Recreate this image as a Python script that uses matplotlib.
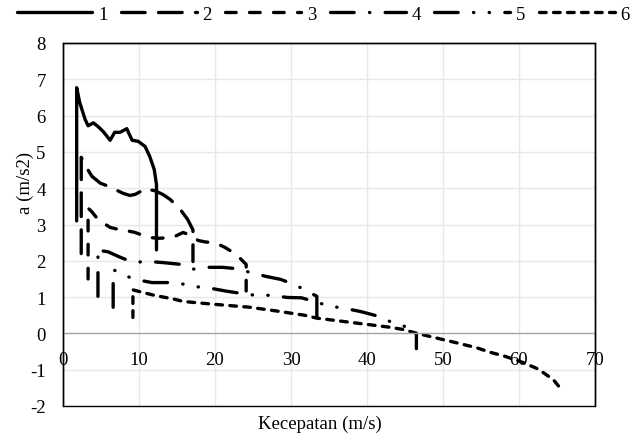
import matplotlib
matplotlib.use('Agg')
import matplotlib.pyplot as plt
from matplotlib.patches import Rectangle

plt.rcParams['font.family'] = ['Liberation Serif', 'DejaVu Serif']
plt.rcParams['font.size'] = 13.5
plt.rcParams['axes.unicode_minus'] = False

# ---- data (speed m/s, acceleration m/s2) ----
x1 = [1.8, 1.8, 2.2, 2.9, 3.3, 4.0, 4.6, 5.3, 6.2, 6.8, 7.5, 8.4, 8.6, 9.1, 9.9, 10.8, 11.4, 12.0, 12.3, 12.3]
y1 = [3.1, 6.77, 6.36, 5.9, 5.72, 5.8, 5.7, 5.56, 5.32, 5.54, 5.54, 5.64, 5.54, 5.32, 5.29, 5.15, 4.88, 4.52, 4.1, 2.3]

x2 = [2.4, 2.4, 3.0, 3.8, 4.9, 6.0, 7.0, 7.9, 8.8, 9.5, 10.3, 11.0, 11.6, 12.1, 13.2, 14.1, 15.3, 16.4, 17.1, 17.1]
y2 = [2.2, 4.85, 4.6, 4.33, 4.14, 4.05, 3.95, 3.86, 3.8, 3.83, 3.92, 3.87, 3.95, 3.93, 3.82, 3.69, 3.45, 3.14, 2.85, 1.98]

x3 = [3.3, 3.3, 3.8, 4.6, 5.4, 6.2, 7.0, 7.8, 8.6, 9.5, 10.5, 11.5, 12.5, 13.5, 14.7, 15.8, 16.6, 17.8, 18.7, 19.6, 20.5, 21.3, 22.0, 22.6, 23.4, 24.1, 24.1]
y3 = [1.5, 3.45, 3.35, 3.14, 3.03, 2.92, 2.88, 2.86, 2.82, 2.78, 2.7, 2.64, 2.62, 2.63, 2.67, 2.78, 2.72, 2.56, 2.52, 2.5, 2.45, 2.37, 2.28, 2.18, 2.05, 1.9, 0.85]

x4 = [4.6, 4.6, 4.9, 5.9, 7.5, 9.2, 10.3, 11.4, 13.2, 15.6, 17.1, 19.1, 21.0, 23.0, 24.6, 25.8, 26.7, 28.6, 30.4, 32.1, 33.4, 33.4]
y4 = [1.02, 2.35, 2.28, 2.25, 2.1, 1.96, 1.97, 1.98, 1.95, 1.9, 1.77, 1.82, 1.82, 1.78, 1.68, 1.62, 1.57, 1.49, 1.35, 1.17, 1.02, 0.25]

x5 = [6.6, 6.6, 7.0, 7.8, 8.7, 9.7, 10.7, 11.7, 13.2, 14.7, 16.0, 17.4, 19.5, 21.6, 23.5, 25.3, 27.4, 29.5, 31.4, 33.2, 35.1, 37.1, 39.2, 41.0, 42.0, 43.0, 44.7, 46.5, 46.5]
y5 = [0.72, 1.75, 1.72, 1.63, 1.55, 1.49, 1.44, 1.40, 1.40, 1.40, 1.35, 1.29, 1.24, 1.16, 1.1, 1.05, 1.05, 0.99, 0.98, 0.87, 0.75, 0.69, 0.6, 0.5, 0.42, 0.33, 0.22, 0.02, -0.42]

x6 = [9.2, 9.2, 9.9, 12.0, 14.7, 15.8, 20.0, 24.6, 28.0, 31.8, 33.4, 38.0, 43.0, 44.7, 46.6, 49.0, 52.0, 54.5, 56.2, 58.0, 60.5, 62.5, 64.5, 65.2, 65.4]
y6 = [0.44, 1.2, 1.16, 1.05, 0.94, 0.88, 0.8, 0.72, 0.62, 0.5, 0.42, 0.3, 0.17, 0.11, 0.0, -0.12, -0.27, -0.4, -0.52, -0.62, -0.8, -0.98, -1.27, -1.45, -1.55]

labels = ['1', '2', '3', '4', '5', '6']
xticks = [0, 10, 20, 30, 40, 50, 60, 70]
yticks = [-2, -1, 0, 1, 2, 3, 4, 5, 6, 7, 8]

series = [(x1, y1), (x2, y2), (x3, y3), (x4, y4), (x5, y5), (x6, y6)]
dashes = [None,
          (7.1, 4.0),
          (3.2, 4.0),
          (7.1, 4.6, 0.1, 4.6),
          (7.1, 4.6, 0.1, 4.6, 0.1, 4.6),
          (2.0, 2.2)]

fig = plt.figure(figsize=(6.38, 4.39), dpi=100)
ax = fig.add_axes([63/638, 1-407/439, (595-63)/638, (407-44)/439])

for (xs, ys), lab, d in zip(series, labels, dashes):
    kw = dict(color='black', lw=2.4, label=lab, solid_capstyle='round',
              dash_capstyle='round', solid_joinstyle='round', dash_joinstyle='round')
    if d is None:
        ax.plot(xs, ys, '-', **kw)
    else:
        ax.plot(xs, ys, dashes=d, **kw)

ax.set_xlim(0, 70)
ax.set_ylim(-2, 8)
ax.set_xticks(xticks)
ax.set_yticks(yticks)
ax.grid(True, color='#EBE8DE', lw=1)
ax.set_axisbelow(True)
for s in ['top', 'right', 'left']:
    ax.spines[s].set_color('black')
    ax.spines[s].set_linewidth(1)
ax.spines['bottom'].set_position(('data', 0))
ax.spines['bottom'].set_color('#A6A6A6')
ax.spines['bottom'].set_linewidth(1)
ax.add_patch(Rectangle((0, 0), 1, 1, transform=ax.transAxes, fill=False,
                       edgecolor='black', lw=1, clip_on=False, zorder=5))
ax.tick_params(axis='both', length=0, labelsize=13.5)
ax.tick_params(axis='x', pad=12.5)
ax.tick_params(axis='y', pad=12.5)

fig.text(25/638, 1-183/439, 'a (m/s2)', rotation=90, ha='center', va='center', fontsize=13.5)
fig.text(320/638, 1-424/439, 'Kecepatan (m/s)', ha='center', va='center', fontsize=13.5)

fig.legend(loc='center', bbox_to_anchor=(323/638, 1-15/439), ncol=6, frameon=False,
           handlelength=4.05, handletextpad=0.3, columnspacing=0.72, fontsize=13.5,
           borderaxespad=0, borderpad=0)

fig.savefig('out.png', dpi=100)
